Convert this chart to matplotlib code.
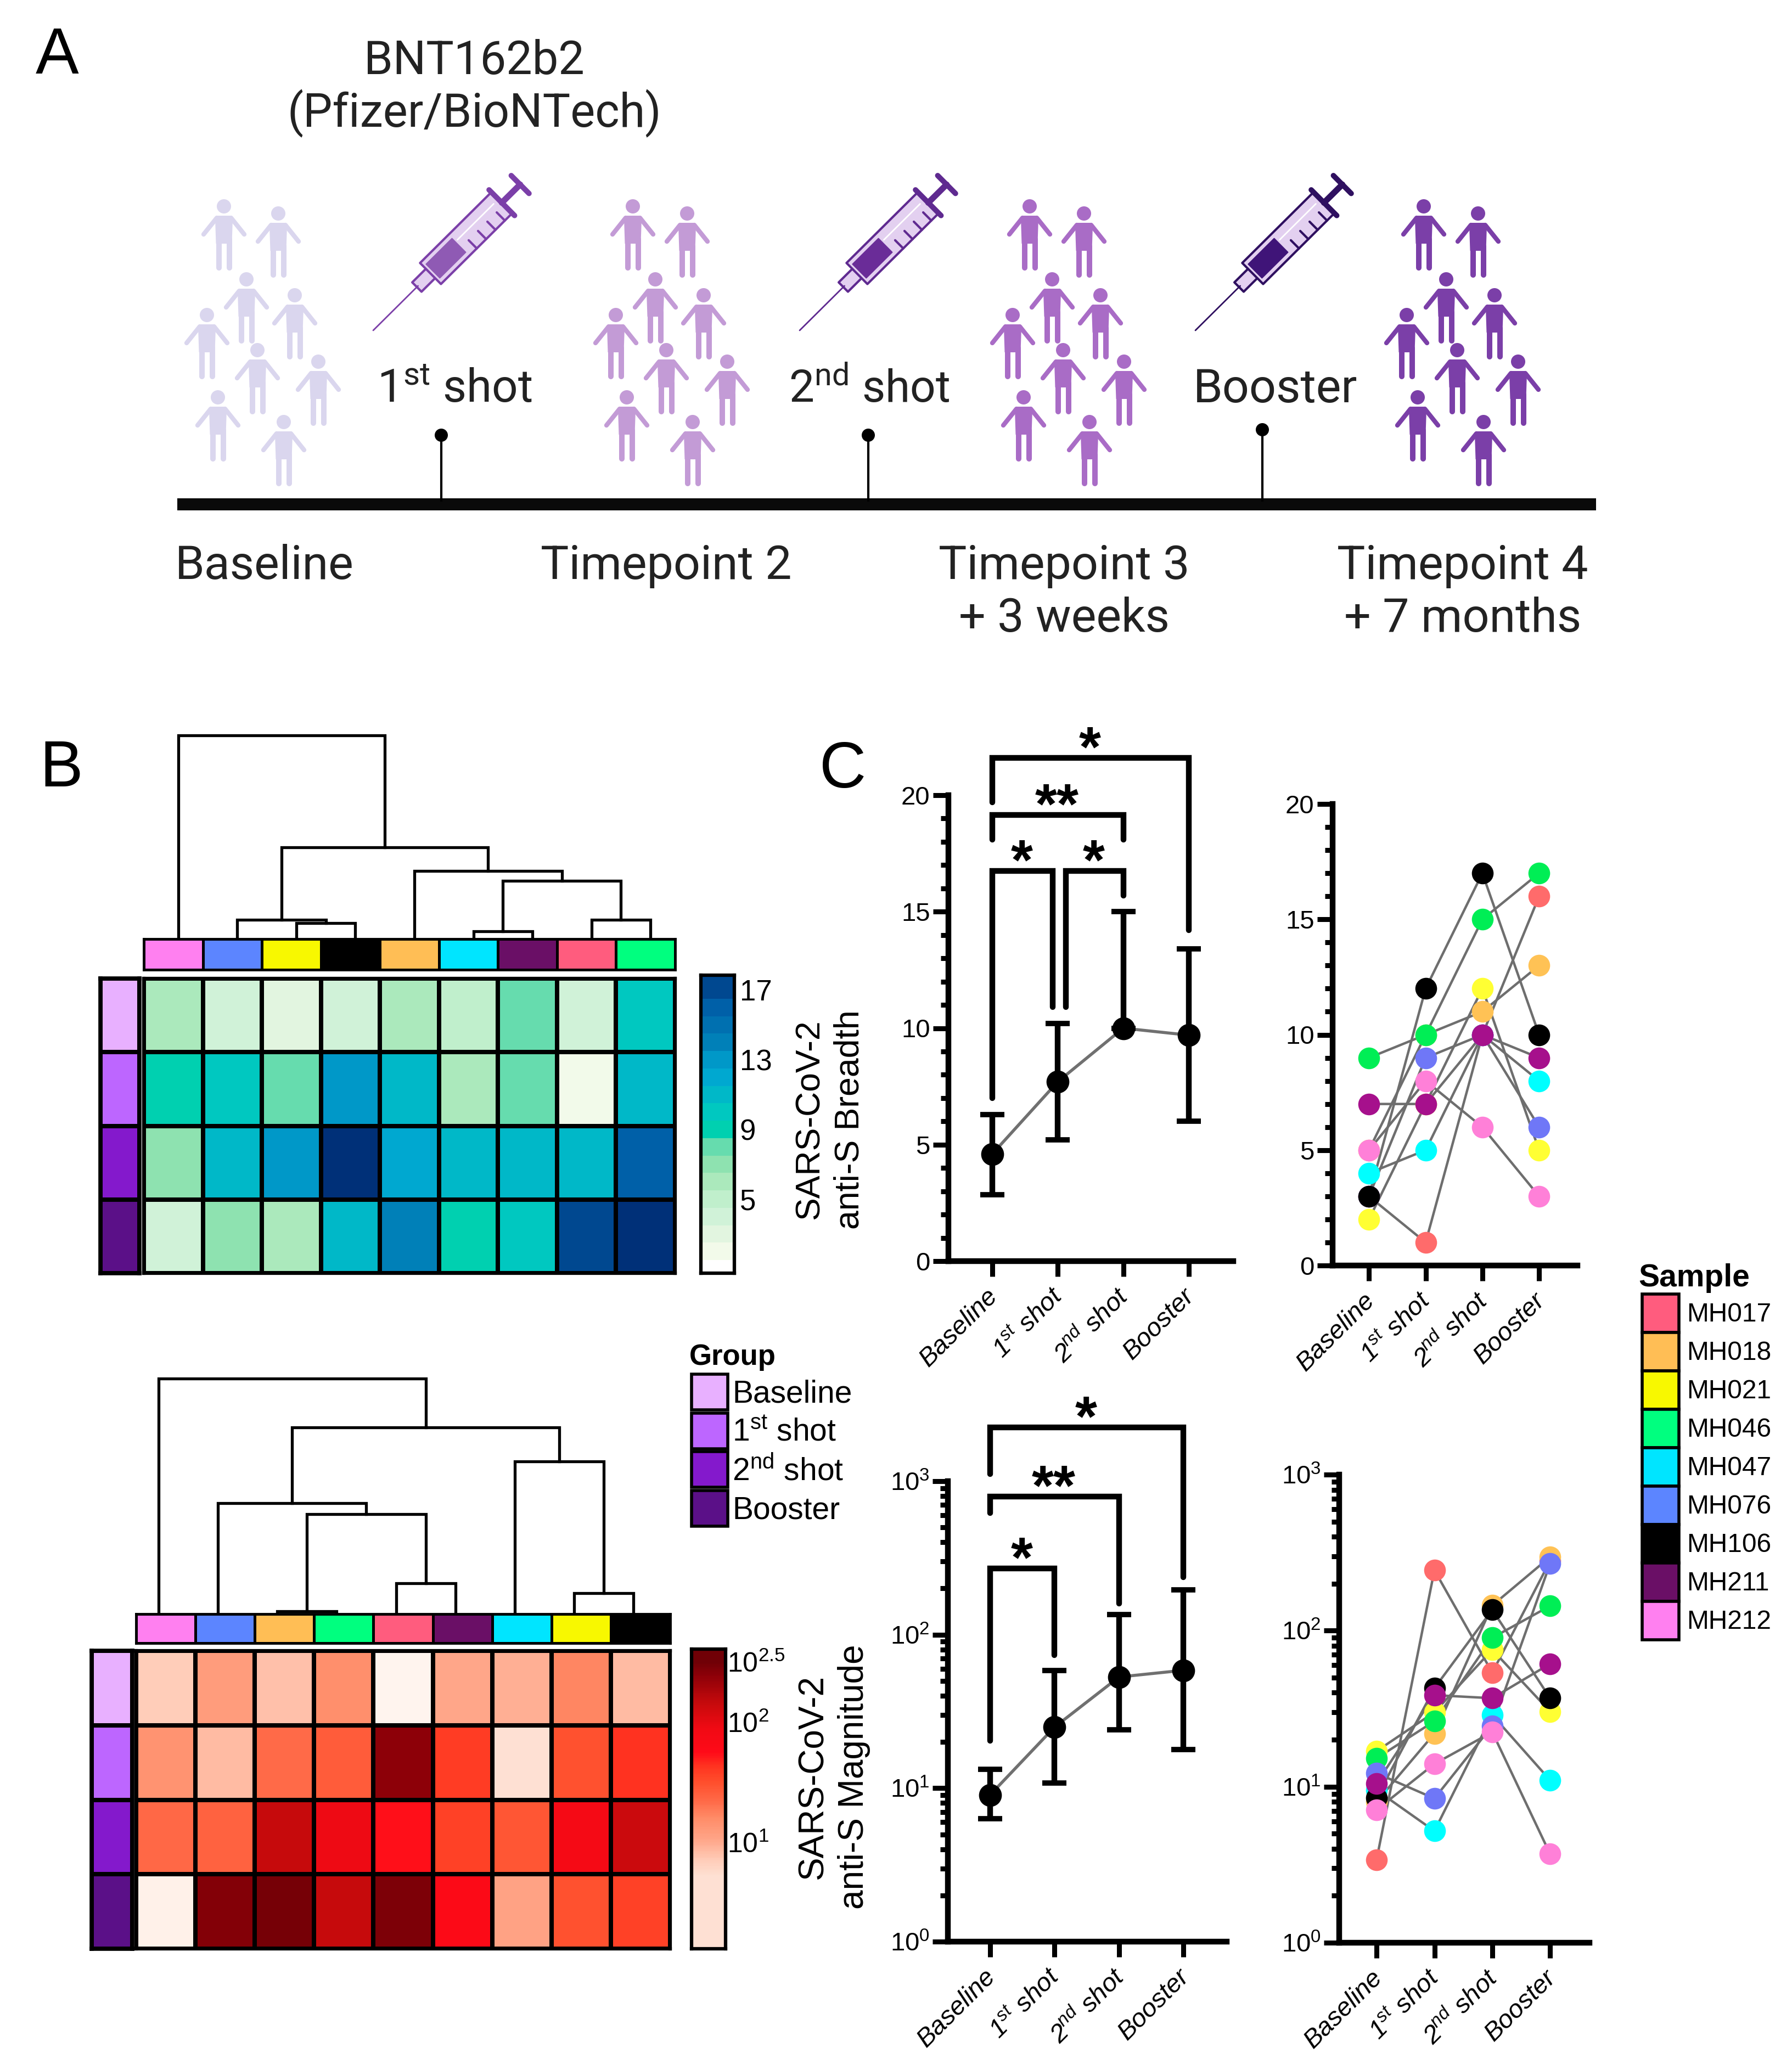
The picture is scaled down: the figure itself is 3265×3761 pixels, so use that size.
#!/usr/bin/env python
# coding: utf-8

import numpy as np
from matplotlib import pyplot as plt
from matplotlib.colors import BoundaryNorm, LinearSegmentedColormap, ListedColormap, Normalize
from matplotlib.patches import Circle, Polygon, Rectangle
from matplotlib.ticker import FixedLocator, FuncFormatter, MultipleLocator, NullFormatter
from matplotlib.transforms import ScaledTranslation

W, H = 3265, 3761

plt.rcParams['font.family'] = ['Liberation Sans', 'DejaVu Sans']
plt.rcParams['mathtext.default'] = 'regular'

timepoints = ['Baseline', '1$^{st}$ shot', '2$^{nd}$ shot', 'Booster']
samples = ['MH017', 'MH018', 'MH021', 'MH046', 'MH047', 'MH076', 'MH106', 'MH211', 'MH212']
sample_colors = ['#FF5C7E', '#FFBE55', '#F8F800', '#00FF7F', '#00E5FF', '#5C85FF', '#000000', '#6A0F66', '#FF80F0']
dot_colors = ['#FF6B6B', '#FFC255', '#FFFF33', '#00EE55', '#00FFFF', '#6F77F7', '#000000', '#A6108C', '#FF80D8']
group_colors = ['#E8B0FF', '#BD66FF', '#8419CC', '#5B1088']

breadth_baseline = [3, 5, 2, 9, 4, 3, 3, 7, 5]
breadth_1st = [1, 10, 7, 10, 5, 9, 12, 7, 8]
breadth_2nd = [10, 11, 12, 15, 10, 10, 17, 10, 6]
breadth_booster = [16, 13, 5, 17, 8, 6, 10, 9, 3]
breadth_center = [4.6, 7.7, 10, 9.7]
breadth_low = [2.85, 5.2, 10, 6.0]
breadth_high = [6.3, 10.2, 15, 13.4]

mag_baseline = [3.4, 8, 16.9, 15.2, 9.5, 12.2, 8.5, 10.5, 7.1]
mag_1st = [244, 21.9, 30, 26.3, 5.2, 8.4, 42.8, 38.6, 14]
mag_2nd = [53.8, 145, 75.5, 90, 28.8, 24.6, 136, 36.9, 22.4]
mag_booster = [280, 297, 30.3, 144, 11, 269, 36.9, 61.3, 3.7]
mag_center = [9.04, 25, 53, 58.6]
mag_low = [6.3, 10.8, 24, 17.9]
mag_high = [13.3, 58.6, 135, 196]

breadth_order = ['MH212', 'MH076', 'MH021', 'MH106', 'MH018', 'MH047', 'MH211', 'MH017', 'MH046']
mag_order = ['MH212', 'MH076', 'MH018', 'MH046', 'MH017', 'MH211', 'MH047', 'MH021', 'MH106']

# (left, right, height) of every dendrogram merge, leaves are 0-8, new nodes go on from 9
breadth_merges = [(2, 3, 25), (1, 9, 31), (5, 6, 10), (7, 8, 31), (11, 12, 102), (4, 13, 120), (10, 14, 163), (0, 15, 367)]
mag_merges = [(2, 3, 3), (4, 5, 54), (9, 10, 180), (1, 11, 200), (7, 8, 36), (6, 13, 276), (12, 14, 338), (0, 15, 427)]

# (x from, x to, top, end on left, end on right, stars)
breadth_brackets = [(0, 3, 21.6, 19.7, 14.2, '*'), (0, 2, 19.15, 18.1, 18.1, '**'),
                    (0, 0.92, 16.75, 7.0, 10.9, '*'), (1.12, 2, 16.75, 10.9, 15.7, '*')]
mag_brackets = [(0, 3, 2233, 1113, 237, '*'), (0, 2, 794, 621, 160, '**'), (0, 1, 271, 20.4, 73.4, '*')]

breadth_levels = ['#FFFFFF', '#F2FAEA', '#E2F5E0', '#D0F2D8', '#C0EFCC', '#ABE9BC', '#8EE2B0', '#66DCAE', '#00D0B0',
                  '#00C8C0', '#00B8C8', '#00A8D0', '#0098C8', '#0080B8', '#0070B0', '#0060A8', '#004890', '#003078']
mag_stops = [(0.53, '#FFF4EE'), (0.72, '#FEE0D2'), (0.85, '#FFCCB8'), (1.02, '#FFA588'), (1.2, '#FF8C68'), (1.34, '#FF6A48'),
             (1.5, '#FF4E2C'), (1.63, '#FF3420'), (1.75, '#FF0A18'), (1.95, '#F00A14'), (2.15, '#C80A0C'), (2.4, '#8B0008'),
             (2.5, '#700006')]

people_heads = [(408, 376), (507, 389), (449, 509), (537, 538), (377, 574), (469, 638), (580, 659), (397, 724), (517, 769)]
people_shift = [0, 745, 1468, 2186]
people_colors = ['#DAD6EE', '#C39BD6', '#A96CC6', '#7B3FA8']
person_body = [(-13, 17), (13, 17), (16, 22), (14.5, 68), (-14.5, 68), (-16, 22)]


def px_axes(fig, left, top, right, bottom):
    return fig.add_axes([left / W, 1 - bottom / H, (right - left) / W, (bottom - top) / H], facecolor='none')


def draw_person(ax, x, y, color):
    ax.add_patch(Circle((x, y), 13, color=color, lw=0))
    ax.add_patch(Polygon([(x + a, y + b) for a, b in person_body], closed=True, color=color, lw=0))
    for s in (-1, 1):
        ax.plot([x + s * 13, x + s * 37], [y + 21, y + 51], color=color, lw=6, solid_capstyle='round')
        ax.plot([x + s * 9.5, x + s * 9.5], [y + 60, y + 112], color=color, lw=7.2, solid_capstyle='round')


def draw_syringe(ax, tip, dark, edge):
    tip = np.array(tip, dtype=float)
    along = np.array([0.71, -0.705])
    side = np.array([0.705, 0.71])

    def at(t, w=0):
        return tip + along * t + side * w

    def part(t0, t1, w):
        return [at(t0, -w), at(t1, -w), at(t1, w), at(t0, w)]

    def stroke(t0, w0, t1, w1, color, lw):
        ax.plot(*zip(at(t0, w0), at(t1, w1)), color=color, lw=lw, solid_capstyle='round')

    light = '#E3D0F0'
    stroke(0, 0, 115, 0, edge, 2)
    ax.add_patch(Polygon(part(112, 150, 12), fc=light, ec=edge, lw=3, joinstyle='round'))
    ax.add_patch(Polygon(part(147, 330, 27), fc=light, ec=edge, lw=3, joinstyle='round'))
    ax.add_patch(Polygon(part(153, 220, 18), fc=dark, ec=dark, lw=1))
    stroke(225, -9, 318, -9, 'white', 2)
    for t in (239, 263, 287, 311):
        stroke(t, 6, t, 27, edge, 3)
    stroke(330, 0, 377, 0, edge, 8)
    stroke(330, -33, 330, 33, edge, 7)
    stroke(377, -23, 377, 23, edge, 7)


def text_px(ax, x, y, s, size, **kwargs):
    ax.text(x, y, s, fontsize=size, va=kwargs.pop('va', 'baseline'), **kwargs)


def draw_panel_a(ax):
    roboto = ['Roboto', 'DejaVu Sans']
    ink = '#222222'
    for shift, color in zip(people_shift, people_colors):
        for x, y in people_heads:
            draw_person(ax, x + shift, y, color)
    draw_syringe(ax, (680, 602), '#8F5AB4', '#7B3FA8')
    draw_syringe(ax, (1457, 602), '#6A2C98', '#5F2A90')
    draw_syringe(ax, (2178, 602), '#3F1478', '#2F1060')

    ax.add_patch(Rectangle((323, 908), 2585, 22, color='#0A0A0A', lw=0))
    for x, y in ((804, 793), (1582, 793), (2300, 783)):
        ax.plot([x, x], [y, 912], color='k', lw=3)
        ax.add_patch(Circle((x, y), 12, color='k', lw=0))

    text_px(ax, 864, 135, 'BNT162b2', 61, ha='center', family=roboto, color=ink)
    text_px(ax, 864, 231, '(Pfizer/BioNTech)', 61, ha='center', family=roboto, color=ink)
    text_px(ax, 687, 733, '1$^{st}$ shot', 60, family=roboto, color=ink)
    text_px(ax, 1437, 733, '2$^{nd}$ shot', 59, family=roboto, color=ink)
    text_px(ax, 2174, 733, 'Booster', 62, family=roboto, color=ink)
    text_px(ax, 319, 1055, 'Baseline', 62, family=roboto, color=ink)
    text_px(ax, 985, 1055, 'Timepoint 2', 62, family=roboto, color=ink)
    text_px(ax, 1939, 1055, 'Timepoint 3', 62, ha='center', family=roboto, color=ink)
    text_px(ax, 1939, 1151, '+ 3 weeks', 62, ha='center', family=roboto, color=ink)
    text_px(ax, 2665, 1055, 'Timepoint 4', 62, ha='center', family=roboto, color=ink)
    text_px(ax, 2665, 1151, '+ 7 months', 62, ha='center', family=roboto, color=ink)


def draw_legends(ax):
    text_px(ax, 1256, 2487, 'Group', 38, fontweight='bold')
    tops = [2504, 2575, 2645, 2716]
    for top, color, label in zip(tops, group_colors, timepoints):
        ax.add_patch(Rectangle((1260, top), 66, 65, fc=color, ec='k', lw=4))
        text_px(ax, 1334, top + 36, label, 41, va='center')

    text_px(ax, 2985, 2344, 'Sample', 41, fontweight='bold')
    for i, (color, label) in enumerate(zip(sample_colors, samples)):
        top = 2358 + i * 70
        ax.add_patch(Rectangle((2992, top), 67, 70, fc=color, ec='k', lw=4))
        text_px(ax, 3073, top + 38, label, 34.5, va='center')


def draw_dendrogram(fig, left, top, right, bottom, merges):
    ax = px_axes(fig, left, top, right, bottom)
    ax.set_xlim(0, 9)
    ax.set_ylim(0, bottom - top)
    ax.axis('off')
    nodes = [(i + 0.5, 0) for i in range(9)]
    for a, b, height in merges:
        xa, ya = nodes[a]
        xb, yb = nodes[b]
        ax.plot([xa, xa, xb, xb], [ya, height, height, yb], color='k', lw=3.8, clip_on=False,
                solid_joinstyle='miter')
        nodes.append(((xa + xb) / 2, height))


def draw_cells(fig, left, top, right, bottom, values, cmap, norm, lw=4.5):
    ax = px_axes(fig, left, top, right, bottom)
    ax.pcolormesh(values, cmap=cmap, norm=norm, edgecolors='k', linewidth=lw)
    ax.invert_yaxis()
    ax.set_xticks([])
    ax.set_yticks([])
    for spine in ax.spines.values():
        spine.set_linewidth(lw)
    return ax


def draw_heatmap(fig, box, top_box, side_box, rows, order, cmap, norm):
    sample_index = [samples.index(s) for s in order]
    values = np.array(rows)[:, sample_index]
    draw_cells(fig, *box, values, cmap, norm)
    colors = [sample_colors[i] for i in sample_index]
    draw_cells(fig, *top_box, np.arange(9).reshape(1, 9), ListedColormap(colors), None, lw=3.5)
    draw_cells(fig, *side_box, np.arange(4).reshape(4, 1), ListedColormap(group_colors), None, lw=5.5)


def style_axis(fig, ax, scale):
    for name in ('top', 'right'):
        ax.spines[name].set_visible(False)
    for name in ('left', 'bottom'):
        ax.spines[name].set_linewidth(7.5)
    if scale == 'log':
        ax.set_yscale('log')
        ax.set_ylim(1, 1000)
        ax.yaxis.set_major_locator(FixedLocator([1, 10, 100, 1000]))
        ax.yaxis.set_minor_locator(FixedLocator([m * 10 ** e for e in range(3) for m in range(2, 10)]))
        ax.yaxis.set_major_formatter(FuncFormatter(lambda v, _: '10$^{%d}$' % round(np.log10(v))))
        ax.yaxis.set_minor_formatter(NullFormatter())
    else:
        ax.set_ylim(0, 20)
        ax.yaxis.set_major_locator(MultipleLocator(5))
        ax.yaxis.set_minor_locator(MultipleLocator(1))
    ax.set_xticks(range(4))
    ax.set_xticklabels(timepoints, rotation=45, ha='right', va='top', rotation_mode='anchor',
                       fontsize=34, style='italic')
    ax.tick_params(axis='both', which='major', length=20, width=6.5, labelsize=34, pad=4)
    ax.tick_params(axis='x', labelsize=34, pad=10)
    ax.tick_params(axis='y', which='minor', length=10, width=6.5)
    shift = ScaledTranslation(-0.12, 0, fig.dpi_scale_trans)
    for label in ax.get_xticklabels():
        label.set_transform(label.get_transform() + shift)


def draw_summary(fig, box, xlim, scale, center, low, high, brackets, ylabel):
    ax = px_axes(fig, *box)
    ax.set_xlim(*xlim)
    style_axis(fig, ax, scale)
    x = np.arange(4)
    ax.plot(x, center, color='#707070', lw=4, zorder=2)
    ax.errorbar(x, center, yerr=[np.array(center) - low, np.array(high) - center], fmt='o', color='k', ms=29,
                elinewidth=7.5, capsize=16, capthick=7, zorder=3, clip_on=False)
    for x0, x1, top, end0, end1, stars in brackets:
        ax.plot([x0, x0, x1, x1], [end0, top, top, end1], color='k', lw=7.5, clip_on=False,
                solid_joinstyle='miter', solid_capstyle='round')
        ax.annotate(stars, xy=((x0 + x1) / 2, top), xytext=(-1, -11), textcoords='offset points', fontsize=74,
                    fontweight='bold', ha='center', va='baseline', annotation_clip=False)
    fig.text(ylabel[0] / W, 1 - ylabel[1] / H, ylabel[2], fontsize=ylabel[3], rotation=90, ha='center', va='center',
             multialignment='center', linespacing=1.3)


def draw_samples(fig, box, xlim, scale, rows):
    ax = px_axes(fig, *box)
    ax.set_xlim(*xlim)
    style_axis(fig, ax, scale)
    values = np.array(rows).T
    for series in values:
        ax.plot(range(4), series, color='#6E6E6E', lw=3.2, zorder=2)
    for i, (series, color) in enumerate(zip(values, dot_colors)):
        ax.plot(range(4), series, 'o', color=color, ms=28.5, mew=0, zorder=3 + i, clip_on=False)


def main():
    fig = plt.figure(figsize=(W / 100, H / 100), dpi=100, facecolor='white')

    back = fig.add_axes([0, 0, 1, 1])
    back.set_xlim(0, W)
    back.set_ylim(H, 0)
    back.axis('off')
    draw_panel_a(back)
    draw_legends(back)
    for x, y, letter in ((65, 134, 'A'), (72, 1433, 'B'), (1493, 1435, 'C')):
        text_px(back, x, y, letter, 85)

    breadth_rows = [breadth_baseline, breadth_1st, breadth_2nd, breadth_booster]
    mag_rows = [mag_baseline, mag_1st, mag_2nd, mag_booster]

    # breadth heatmap, cells read one band darker than the colour bar beside them
    cmap_b = ListedColormap(breadth_levels)
    norm_cells = BoundaryNorm(np.arange(-0.5, 17.6), cmap_b.N)
    norm_bar = BoundaryNorm(np.arange(0.5, 18.6), cmap_b.N)
    draw_heatmap(fig, (262, 1783, 1230, 2320), (262, 1711, 1230, 1767), (183, 1783, 254, 2320),
                 breadth_rows, breadth_order, cmap_b, norm_cells)
    draw_dendrogram(fig, 271, 1340, 1239, 1707, breadth_merges)
    cb = px_axes(fig, 1277, 1777, 1338, 2320)
    edges = np.r_[0.75, np.arange(1.5, 18.5)]
    edges[-1] = 17.85
    cb.pcolormesh([0, 1], edges, np.arange(1, 18).reshape(-1, 1), cmap=cmap_b, norm=norm_bar)
    cb.set_ylim(0.75, 17.85)
    cb.set_xticks([])
    cb.set_yticks([5, 9, 13, 17])
    cb.yaxis.tick_right()
    cb.tick_params(length=0, labelsize=38, pad=7)
    for spine in cb.spines.values():
        spine.set_linewidth(4.5)

    # magnitude heatmap
    lo, hi = mag_stops[0][0], mag_stops[-1][0]
    cmap_m = LinearSegmentedColormap.from_list('mag', [((v - lo) / (hi - lo), c) for v, c in mag_stops])
    norm_m = Normalize(lo, hi)
    draw_heatmap(fig, (248, 3008, 1221, 3551), (248, 2941, 1221, 2994), (167, 3008, 241, 3551),
                 np.log10(mag_rows), mag_order, cmap_m, norm_m)
    draw_dendrogram(fig, 235, 2512, 1208, 2939, mag_merges)
    cb = px_axes(fig, 1260, 3005, 1322, 3551)
    edges = np.linspace(0.114, 2.607, 200)
    cb.pcolormesh([0, 1], 10 ** edges, np.clip((edges[:-1] + edges[1:]) / 2, 0.72, None).reshape(-1, 1),
                  cmap=cmap_m, norm=norm_m)
    cb.set_yscale('log')
    cb.set_ylim(10 ** 0.114, 10 ** 2.607)
    cb.set_xticks([])
    cb.set_yticks([10, 100, 10 ** 2.5], ['10$^{1}$', '10$^{2}$', '10$^{2.5}$'])
    cb.minorticks_off()
    cb.yaxis.tick_right()
    cb.tick_params(length=0, labelsize=36, pad=2)
    for spine in cb.spines.values():
        spine.set_linewidth(4.5)

    # panel C
    draw_summary(fig, (1728, 1449, 2247, 2298), (-0.67, 3.68), 'linear', breadth_center, breadth_low, breadth_high,
                 breadth_brackets, (1512, 2040, 'SARS-CoV-2\nanti-S Breadth', 45))
    draw_samples(fig, (2428, 1465, 2874, 2306), (-0.64, 3.675), 'linear', breadth_rows)
    draw_summary(fig, (1727, 2699, 2235, 3538), (-0.656, 3.67), 'log', mag_center, mag_low, mag_high,
                 mag_brackets, (1519, 3238, 'SARS-CoV-2\nanti-S Magnitude', 46))
    draw_samples(fig, (2440, 2687, 2896, 3540), (-0.646, 3.68), 'log', mag_rows)

    fig.savefig('out.png', dpi=100)


if __name__ == '__main__':
    main()
